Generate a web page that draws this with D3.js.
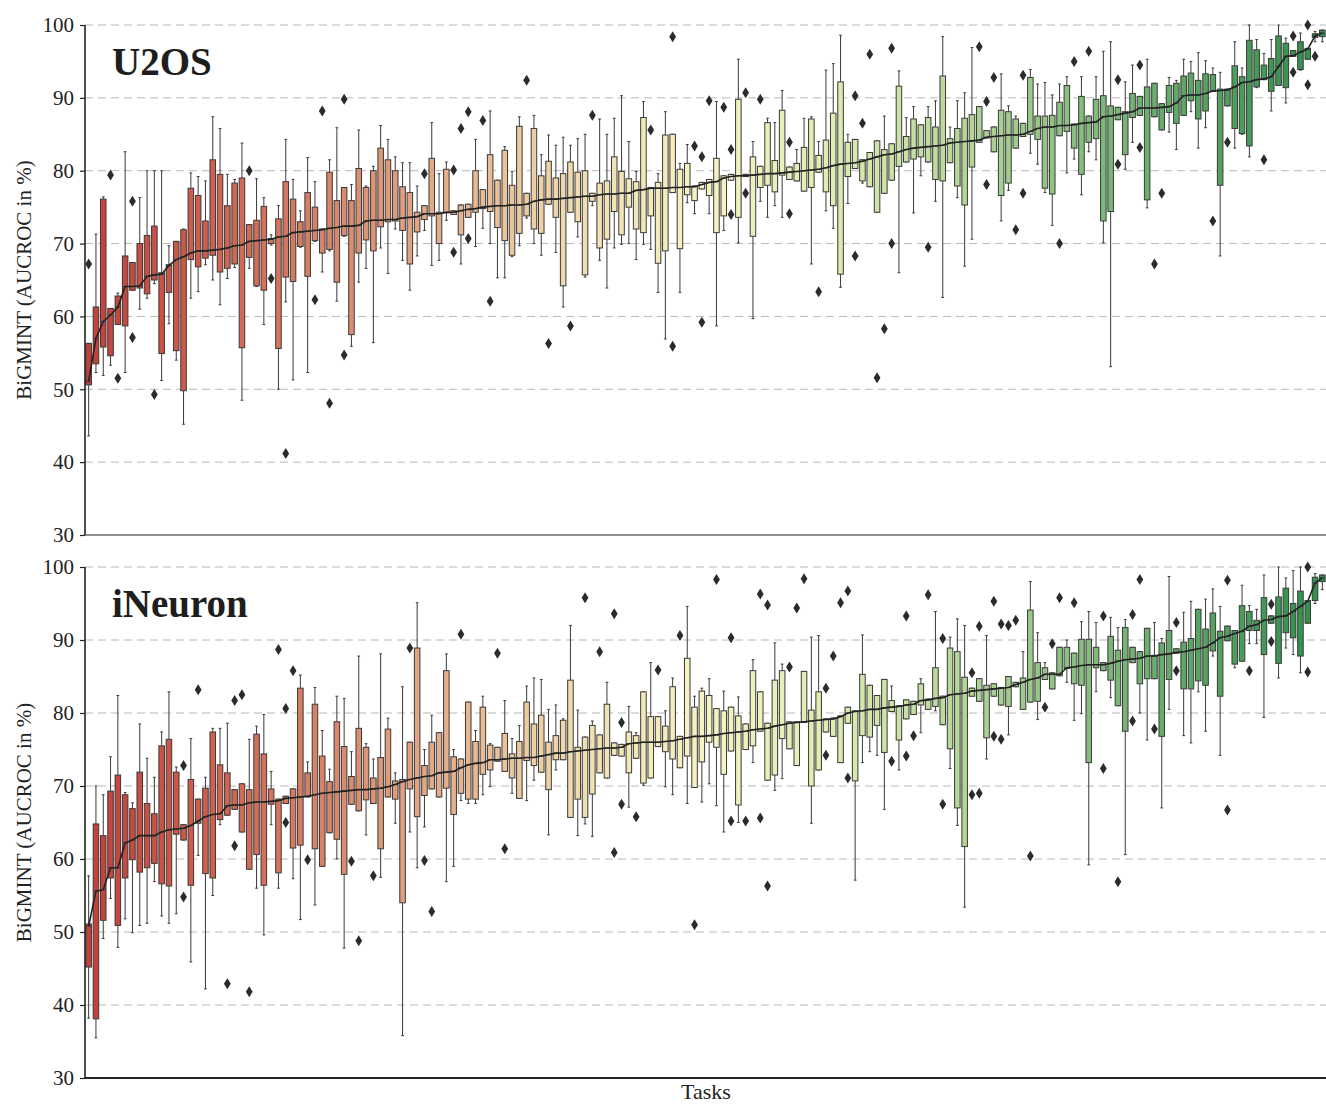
<!DOCTYPE html>
<html><head><meta charset="utf-8">
<script src="https://cdn.jsdelivr.net/npm/d3@7"></script>
<style>body{margin:0;background:#fff}svg{display:block}</style>
</head><body>
<svg id="c" width="1326" height="1105"></svg>
<script>
// ---------- U2OS ----------
const u2osQ1=[50.6,53.5,55.8,54.6,58.9,58.7,63.6,63.9,63.1,65,54.9,63.3,55.3,49.8,67.8,66.8,68,68.4,66.1,66.6,67.2,55.7,68.1,64.2,63.6,70,55.6,65.4,64.8,69.6,65.5,70.4,68.7,69.2,64.7,71.1,57.5,68.7,70.5,69,72.3,73,73.1,71.8,67.2,71.6,73.3,73.8,70,74.2,74,71.2,73.6,74.3,74.8,74.4,72.2,70.4,68.4,71.4,73.8,72,71.4,75.4,73.6,64.2,74.3,73,65.7,75.8,69.4,70.6,74.4,71.2,75,72,71.5,73.8,67.3,69,77,69.3,76.7,75.9,77.5,76.6,71.5,73.8,78.7,73.6,79.2,71,77.7,78,77.1,79.4,78.8,78.6,77.2,77.7,79.8,77.1,75.2,65.8,79.2,80.3,78.6,77.8,74.3,76.9,78.7,80.6,81.2,81.6,81.9,81.2,78.8,78.6,81.1,77.9,75.3,80.5,83.9,84.5,82.6,76.6,78.3,83.1,84.7,85,84.3,77.6,76.8,84.8,85.4,83.1,79.5,83.9,84.4,73.1,74.4,87,82.2,87.3,87.6,76,87.4,85.6,88,86.5,87.6,89.6,87.1,88.2,90.9,78,88.9,85.8,85.1,83.4,91.5,92.5,90.9,91.7,91.4,95.7,93.9,95.3,98.3,98.4];
const u2osMed=[51.1,57,59.3,60.2,61.3,64.1,64.1,64.2,65.5,65.7,65.8,67,67.8,68.2,68.7,69,69,69.1,69.2,69.4,69.7,69.8,70.3,70.4,70.5,70.6,70.9,71,71.5,71.6,71.7,71.8,71.9,72.1,72.2,72.4,72.4,72.5,73.1,73.2,73.2,73.3,73.3,73.5,73.6,73.7,74.1,74.1,74.1,74.3,74.3,74.5,74.7,74.8,75,75.1,75.2,75.2,75.3,75.3,75.4,75.8,76,76.1,76.1,76.2,76.3,76.4,76.5,76.5,76.7,76.8,76.8,76.9,76.9,77.3,77.4,77.6,77.6,77.6,77.7,77.7,77.8,77.8,78.1,78.4,78.5,79,79.2,79.3,79.3,79.4,79.5,79.6,79.6,79.7,79.8,79.9,80,80.1,80.2,80.4,80.7,80.9,81,81.1,81.3,81.6,81.9,82.2,82.3,82.6,82.9,83.1,83.2,83.3,83.4,83.5,83.8,83.9,84,84.1,84.2,84.6,84.7,84.8,84.9,84.9,85,85.4,85.8,86,86,86.2,86.2,86.3,86.5,86.6,86.7,87.4,87.5,87.7,87.9,88.1,88.6,88.6,88.6,88.7,88.8,89.3,90.3,90.4,90.4,90.6,90.95,91,91.1,91.5,92.1,92.2,92.5,92.6,92.9,94.3,95.7,95.8,96.3,96.7,98.5,98.9];
const u2osQ3=[56.3,61.3,76.1,61.1,62.8,68.3,67.4,70,71.1,72.4,66,67.1,70.3,71.9,77.6,76.6,73.1,81.5,79.5,75.2,78.3,79,72.6,73.2,75.1,70.7,73.4,78.5,76.1,73,77,75,72,79.8,75.9,77.7,75.9,80.3,77.7,80,83.1,81.5,80,77.8,77,74.3,75.2,81.7,74.3,80.2,74.5,75.3,75.4,80,77.4,82.2,78.7,82.8,78,86.1,76.9,85.8,79.3,81.3,79,79.6,81.2,79.8,80,76.9,78.3,78.6,81.9,79.9,78.9,78.5,87.3,77.7,78.4,84.9,85,80.2,81,77.9,78.4,78.8,81.7,79.3,79.5,89.8,79.5,81.9,80.6,86.6,81.4,88.3,80.5,81,83.2,87.1,82.1,84.2,87.9,92.2,83.9,84.3,81.5,82.5,84.1,82.9,83.7,91.6,84.7,87.1,86.3,87.3,86,93,84.4,85.8,87.2,87.7,88.8,85.5,86,88.3,88.1,87.1,86.5,92.8,87.5,87.5,87.6,89.4,91.7,86.4,90.2,87.5,89.8,90.3,88.9,88.7,88.1,90.6,90.2,91.5,92,89.2,91.7,92,93,93.4,92.4,93.3,93.2,91.2,91.2,94.4,92.9,97.9,96.6,94.5,95.4,98.5,97.5,96.5,97.7,96.8,98.8,99.3];
const u2osLo=[43.6,52.3,51.9,53.3,58.9,52.3,63.6,61,62.5,64.5,51.2,59,54,45.2,62.5,63.4,67.1,65,61.6,65.2,66.7,48.5,66.6,64.1,58.9,69.8,50,62,51.3,69.5,52.3,70.3,66.1,69,62.1,71,55.9,64.7,66.6,56.4,69.4,65.9,72,67.7,63.6,68.3,71.8,67,67.7,73.2,74,67.2,73.6,69.6,72.1,70,65.3,65.3,68.2,69.7,73.5,70,68.4,75.4,68.8,61.3,74.3,70.9,65.4,75.2,67.7,63.9,69.4,69.9,70,67.8,69.9,69.2,63.3,56.9,77,63.3,75.6,74.1,77.5,74.1,58.7,71.8,78.7,70.1,79.2,59.7,75.8,73.6,75.2,73.6,78.8,78.6,77.2,67.2,79.8,74.5,72.1,64,75.5,80.3,78.3,77.8,74.3,76.9,78.7,66,81.2,74.2,79.3,81.2,75.8,62.6,81.1,76.3,66.9,70.6,83.9,84.5,82.6,73.1,77.3,83.1,84.7,82.4,80.9,77,72.5,84.8,79.7,81.6,76.7,82.6,81.5,70.1,53.1,87,80.2,83.9,87.6,74.9,87.4,85.6,85.3,82.9,87.6,88.1,83.1,85.9,90.9,68.3,88.9,83.1,85,81.9,91.4,92.5,88.2,91.7,89.3,95.7,93.8,95.3,97.7,97.7];
const u2osHi=[56.3,71.3,76.4,61.1,63.2,82.6,67.4,76.3,80,80,80,69.7,70.3,72,79.7,79.2,78.6,87.4,85.8,79.5,78.8,83.8,72.6,78.9,76.3,71.2,75.2,84.3,78.8,74.5,81.8,78.5,72,81.5,85.9,77.7,78.1,85.6,77.9,80.6,86.2,84.3,81.9,81.1,81.1,77.9,75.2,86.6,79.6,81.2,74.5,75.3,75.4,84.3,77.4,88.2,78.7,83.3,79.9,87.4,76.9,87.6,82.2,84.9,83.5,84.6,83.5,84.4,85,76.9,87.1,85,87.2,90.3,84,79.9,89.5,77.7,79.6,88.1,85,81,83.6,77.9,78.4,78.8,89.5,79.3,79.5,95.3,79.5,84,80.6,87.2,86.6,91,80.5,82.9,87.2,87.4,84,93.8,94.7,98.6,85,84.3,81.5,82.5,84.1,87.5,83.7,93.7,87.3,88.8,86.3,88.8,89.6,98.4,86,89.6,90.7,96.9,88.8,85.5,86,93.3,88.9,87.5,86.5,93.9,91.9,92.1,90.4,91.9,92.9,86.4,92.9,87.5,92.9,96.4,97.7,88.7,92.2,94.5,90.2,95.3,92,89.2,92.8,92.4,95.3,95,96.2,95.1,94.1,93.5,91.2,97.7,94.1,100,98,96.1,98,100,98.2,96.5,98.9,96.8,99.1,99.3];
const u2osOutliers=[[1,67.2],[4,79.4],[5,51.5],[7,75.8],[7,57.1],[10,49.3],[23,80],[26,65.2],[28,41.2],[32,62.3],[33,88.2],[34,48.1],[36,89.8],[36,54.7],[47,79.6],[51,80.1],[51,68.8],[52,85.8],[53,88.1],[53,70.7],[55,86.9],[56,62.1],[61,92.4],[64,56.3],[67,58.7],[70,87.6],[78,85.6],[81,98.4],[81,55.9],[84,83.4],[85,81.9],[85,59.2],[86,89.6],[88,88.7],[89,82.9],[89,74],[91,90.7],[91,76.9],[93,89.8],[97,83.9],[97,74.1],[101,63.4],[106,90.3],[106,68.3],[107,86.5],[108,96],[109,51.6],[110,58.3],[111,96.8],[111,70],[116,69.5],[123,97],[124,89.5],[124,78.1],[125,92.8],[128,71.9],[129,93.1],[129,76.9],[134,70],[136,95],[138,96.4],[142,92.5],[142,80.9],[145,94.5],[145,83.2],[147,67.2],[148,76.9],[155,73.1],[157,83.9],[162,81.5],[166,98.5],[166,93.5],[168,100],[168,91.8],[169,95.7]];

// ---------- iNeuron ----------
const ineuQ1=[45.2,38.1,51.6,57.4,50.9,57.4,59.9,58.2,58.8,59.4,56.6,56.3,63.4,62.6,56.4,64.9,58,57.4,65.4,66,66.8,63.7,58.6,60.6,56.4,67.5,58.1,67.6,61.5,61.9,68.5,61.4,59,63.6,62.7,57.9,67.5,66.6,68.1,67.6,61.4,68.5,68.2,54,69.6,65.8,68.7,69.6,68.5,69.7,66.1,69,68.2,68.2,71.6,72.2,73.4,72,71.1,68.3,73.5,72.8,71.9,69.5,73.6,73.6,65.7,68.2,65.7,68.9,71.8,71.1,74.2,74.1,71.8,73.8,70.4,71.1,75.4,74.7,73.7,72.5,74.1,69.8,73.3,76,75.3,71.6,74.8,67.4,75,75.5,77.5,70.8,71.5,76.5,75.1,72.8,78.7,70,72.2,77.4,76.8,73.2,78.6,70.7,76.9,76.7,78.3,74.6,80.2,76.3,79.2,79.8,81.1,80.5,80.9,78.4,75.1,67,61.7,82.3,81.6,76.6,82.3,81.1,80.9,83.6,80.5,81.5,81.6,84.6,83.3,85.1,86.1,84,83.8,73.2,86.2,85.8,84.5,81,77.5,86.9,84,84.7,84.7,76.8,84.6,88.2,83.3,83.3,84.4,83.8,88.5,82.3,89.9,86.7,87.1,91.3,91.3,88,92.3,86.8,91,90.3,87.8,92.3,95.4,98];
const ineuMed=[50.8,55.6,55.8,58.8,58.8,62.2,62.6,63.2,63.2,63.2,63.7,64,64.1,64.2,64.6,65.2,65.8,66.1,66.2,67.3,67.4,67.4,67.7,67.8,67.8,67.9,68,68.3,68.4,68.5,68.6,68.8,69,69.1,69.2,69.3,69.4,69.5,69.5,69.6,69.7,69.9,70.2,70.6,70.9,71.1,71.3,71.4,71.8,71.9,72,72.5,72.9,73.1,73.2,73.6,73.6,73.7,73.8,73.8,73.9,73.9,74.1,74.3,74.5,74.5,74.7,74.8,74.9,75,75.1,75.2,75.2,75.3,75.8,75.9,76,76,76,76.1,76.2,76.4,76.6,76.8,76.8,76.9,77,77.2,77.3,77.4,77.5,77.7,77.8,77.9,78.2,78.4,78.6,78.7,78.8,78.9,79,79.1,79.2,79.5,80,80.2,80.3,80.5,80.5,80.7,80.8,80.9,81.1,81.2,81.7,81.8,82,82.1,82.5,82.6,82.7,83,83.1,83.2,83.3,83.4,83.5,83.9,84.2,84.6,84.8,85.3,85.3,85.3,86.2,86.3,86.5,86.6,86.6,86.6,86.8,87.1,87.3,87.4,87.5,87.8,87.8,88,88.1,88.3,88.4,88.6,88.8,89,89.6,90.3,90.5,90.9,91.2,91.9,92.1,92.7,92.8,93.2,93.3,93.9,94.6,95.3,97.8,98.5];
const ineuQ3=[51.1,64.8,63.2,69.3,71.5,68.8,66.9,71.9,67.6,66.2,75.5,76.4,71.9,64.7,70.9,68.2,69.7,77.4,72.9,71.8,69.5,70.3,69.5,77.1,74.4,69.6,68.2,68.6,69.6,83.4,71.8,81.2,74.1,70.6,78.8,75.4,71.3,77.9,75.3,71.1,73.9,77.8,70.7,70.9,76,88.9,72.8,76,77.3,85.8,74,73.7,81.5,76.1,80.8,75.6,75.3,77.2,74.4,76.1,81.5,78.5,79.7,76,76.9,79,84.5,75.3,76.7,78.3,77,81.2,75.9,75.7,77.4,76.9,82.9,79.5,79.5,78.2,83.6,76.8,87.5,80.8,83,82.4,80.6,80.3,80.8,79.6,78.5,85.8,82.9,78.6,84.5,85.8,78.8,78.8,85.7,80.4,82.9,79.2,79.3,79.6,80.8,80.3,85.3,83.8,82.4,84.6,81.7,81,81.8,81.6,84,81.9,86.2,82.3,88.9,88.4,84.9,83.4,84.7,83.8,84,83.5,85,84.2,84.8,94.1,86.9,86.2,85.5,89,89,88.2,90.1,90.1,89,86.9,90.5,88.6,91.7,89,88.4,91.6,87.9,89.6,91.3,88.8,89.7,90.2,94.2,91.5,93.7,91.2,91.9,91.3,94.7,93.9,92.7,95.8,93.3,95.9,97.1,95,96.7,95.4,98.6,98.9];
const ineuLo=[38.2,35.5,49.1,54.6,47.9,51.8,49.9,50.9,51.2,56.9,52.2,51.2,52.5,62.6,45.9,60.5,42.2,55,64.7,66,66.8,63.7,58.6,56,49.6,64.7,56,67.6,57.3,51.7,68.5,53.7,59,63.6,60,47.8,67.5,66.6,63.3,67.6,57.5,68.5,64.9,35.8,63.7,58.8,64.4,69.6,68.5,56.9,59,68,67.6,67.6,68.8,69.9,73.4,72,69,68.3,68,70.8,71.9,63.3,72.2,73.6,65.7,63.2,64.8,63.1,71.8,71.1,74.2,74.1,67.1,73.8,70.1,71.1,75.4,69.9,68.8,72.5,67.6,69.8,67.8,70.3,67.3,63.7,74.8,65,75,73.2,77.5,70.8,69.4,71,75.1,72.8,78.7,64.9,72.2,77.4,76.8,73.2,78.6,57.1,73.2,74.7,74.2,66.8,80.2,72.2,79.2,79.8,77.3,80.5,80.3,78.4,72.4,64.6,53.4,82.3,81.6,73.7,82.3,81.1,77,83.6,80.5,81.5,79.1,84.6,83.3,85.1,84.2,79,79.9,59.2,82.9,85.8,82.1,81,60.6,86.9,80,76.3,84.7,67,80.5,88.2,76.9,75.9,82.9,77.5,87.8,74.2,89.9,86.2,87.1,89.5,89.5,79.4,92.3,84.8,88.9,88,85.5,92.3,95,96.9];
const ineuHi=[57.7,70,68.8,74,82.4,69.1,67.7,78.5,73.8,71.2,77.4,82.9,72.6,64.7,76.5,68.2,71.2,77.9,77.9,78.6,69.5,70.3,76.4,78.2,79.8,72,68.2,68.6,69.6,85.2,73.3,83.5,77.6,72.3,82.3,82,74.7,87.8,75.8,73.7,88.1,79.3,71.8,83.6,76,95.1,75,79.7,77.3,88.1,75,73.7,81.5,77.6,82.3,75.8,75.3,81.7,76.5,78.3,83.7,84.8,84.6,80.5,81.1,79.2,92,80.4,76.7,78.9,77,84.2,75.9,75.7,80.9,77.3,82.9,86.9,79.5,80.3,84.8,76.8,94.6,82.3,83.4,84.7,80.6,83,80.8,82.2,78.5,87.3,82.9,78.6,89.6,86.7,78.8,78.8,85.7,90.4,90.6,79.2,79.3,79.6,80.8,80.3,90.7,83.8,82.4,84.6,83.7,81,81.8,81.6,84.7,81.9,93.9,82.3,90.4,92.9,92,83.4,84.7,90.6,84,83.5,85,84.2,88.4,98,91,86.9,85.5,89,90,88.2,92.5,93.9,92.4,86.9,93.1,91.7,92.8,89,88.4,91.6,92.4,90.2,98.7,88.8,93.8,95.3,94.2,95.6,97,94.6,91.9,91.3,97.5,94.7,94.2,98.9,93.3,100,98.5,99.5,100,95.4,99.1,98.9];
const ineuOutliers=[[14,72.8],[14,54.8],[16,83.2],[20,42.9],[21,81.7],[21,61.8],[22,82.5],[23,41.8],[27,88.7],[29,85.8],[28,80.6],[28,65],[31,59.9],[37,59.7],[38,48.8],[40,57.7],[45,88.9],[47,59.8],[48,52.8],[52,90.8],[57,88.2],[58,61.4],[69,95.8],[71,88.4],[73,93.6],[73,60.9],[74,78.7],[74,67.5],[76,65.8],[79,85.9],[82,90.6],[84,51],[87,98.3],[89,90.3],[89,65.2],[91,65.2],[93,96.3],[93,65.6],[94,94.8],[94,56.3],[97,86.3],[98,94.4],[99,98.4],[102,83.4],[102,74.2],[103,87.8],[104,95.1],[105,96.7],[105,71.1],[111,73.4],[113,93.3],[113,74.1],[114,76.9],[116,96.2],[118,90.2],[118,67.5],[122,85.5],[122,68.8],[123,91.9],[123,69],[125,95.3],[125,76.8],[126,92.2],[126,76.4],[127,92],[128,92.7],[130,60.4],[132,80.8],[133,89.5],[134,95.8],[136,95.1],[140,93.3],[140,72.4],[142,56.9],[144,93.5],[144,78.9],[145,98.3],[147,77.8],[150,92.4],[150,85.8],[157,98.2],[157,66.7],[160,85.8],[163,94.9],[163,89.8],[168,100],[168,85.6]];

const yTicks=[30,40,50,60,70,80,90,100];
const panelTitles=["U2OS","iNeuron"];
const yLabel="BiGMINT (AUCROC in %)";
const xLabel="Tasks";

const FONT="'Liberation Serif','DejaVu Serif',serif";
const svg=d3.select("#c");
const left=85,right=1326;
const nTasks=u2osMed.length;
const tasks=d3.range(1,nTasks+1);
const x=d3.scaleBand().domain(tasks).range([left,right]).padding(0);
const step=x.bandwidth();
const bw=step*0.76;
const cx=t=>x(t)+step/2;
// muted red -> salmon -> pale yellow -> light green -> green
const ramp=d3.piecewise(d3.interpolateRgb,["#c2403a","#d0604e","#d9876c","#e6b38e","#f1deb0","#f6f3c2","#dfecb2","#b8d99a","#88bf7e","#58a462","#2f8e4b"]);
const colorOf=i=>ramp(i/(nTasks-1));
const LINE="#3a3a3a";

function drawPanel(cfg){
  const y=d3.scaleLinear().domain([30,100]).range([cfg.bottom,cfg.top]);
  const g=svg.append("g");
  g.append("g").selectAll("line").data(yTicks.filter(v=>v>30)).join("line")
    .attr("x1",left).attr("x2",right).attr("y1",d=>y(d)).attr("y2",d=>y(d))
    .attr("stroke","#b8b8b8").attr("stroke-width",1).attr("stroke-dasharray","8,5");
  const rows=tasks.map((t,i)=>({t,i,q1:cfg.q1[i],med:cfg.med[i],q3:cfg.q3[i],lo:cfg.lo[i],hi:cfg.hi[i]}));
  const bx=g.append("g").selectAll("g").data(rows).join("g");
  bx.append("line").attr("x1",d=>cx(d.t)).attr("x2",d=>cx(d.t)).attr("y1",d=>y(d.lo)).attr("y2",d=>y(d.q1)).attr("stroke",LINE).attr("stroke-width",1);
  bx.append("line").attr("x1",d=>cx(d.t)).attr("x2",d=>cx(d.t)).attr("y1",d=>y(d.q3)).attr("y2",d=>y(d.hi)).attr("stroke",LINE).attr("stroke-width",1);
  bx.append("line").attr("x1",d=>cx(d.t)-bw/4).attr("x2",d=>cx(d.t)+bw/4).attr("y1",d=>y(d.lo)).attr("y2",d=>y(d.lo)).attr("stroke",LINE).attr("stroke-width",1);
  bx.append("line").attr("x1",d=>cx(d.t)-bw/4).attr("x2",d=>cx(d.t)+bw/4).attr("y1",d=>y(d.hi)).attr("y2",d=>y(d.hi)).attr("stroke",LINE).attr("stroke-width",1);
  bx.append("rect").attr("x",d=>cx(d.t)-bw/2).attr("width",bw)
    .attr("y",d=>y(d.q3)).attr("height",d=>Math.max(1,y(d.q1)-y(d.q3)))
    .attr("fill",d=>colorOf(d.i)).attr("stroke",LINE).attr("stroke-width",1);
  bx.append("line").attr("x1",d=>cx(d.t)-bw/2).attr("x2",d=>cx(d.t)+bw/2).attr("y1",d=>y(d.med)).attr("y2",d=>y(d.med)).attr("stroke",LINE).attr("stroke-width",1);
  g.append("g").selectAll("path").data(cfg.out).join("path")
    .attr("transform",d=>`translate(${cx(d[0])},${y(d[1])})`)
    .attr("d","M0,-5.5L3.4,0L0,5.5L-3.4,0Z").attr("fill","#2b2b2b");
  g.append("path").datum(rows).attr("fill","none").attr("stroke","#222").attr("stroke-width",1.6)
    .attr("d",d3.line().x(d=>cx(d.t)).y(d=>y(d.med)));
  const ax=g.append("g").attr("transform",`translate(${left},0)`)
    .call(d3.axisLeft(y).tickValues(yTicks).tickSize(5).tickPadding(6).tickSizeOuter(0));
  ax.select(".domain").remove();
  ax.selectAll(".tick line").attr("stroke","#222").attr("stroke-width",1.2);
  ax.selectAll(".tick text").attr("font-family",FONT).attr("font-size",21).attr("fill","#222");
  g.append("line").attr("x1",left).attr("x2",left).attr("y1",cfg.top).attr("y2",cfg.bottom).attr("stroke","#222").attr("stroke-width",1.6);
  g.append("line").attr("x1",left).attr("x2",right).attr("y1",cfg.bottom).attr("y2",cfg.bottom).attr("stroke","#222").attr("stroke-width",cfg.bw);
  g.append("text").attr("x",112).attr("y",cfg.top+50).attr("font-family",FONT).attr("font-weight","bold")
    .attr("font-size",39).attr("fill","#1e1e1e").text(cfg.title);
  g.append("text").attr("transform",`translate(31,${(cfg.top+cfg.bottom)/2}) rotate(-90)`)
    .attr("text-anchor","middle").attr("font-family",FONT).attr("font-size",21).attr("fill","#222").text(yLabel);
}

drawPanel({top:25,bottom:535,q1:u2osQ1,med:u2osMed,q3:u2osQ3,lo:u2osLo,hi:u2osHi,out:u2osOutliers,title:panelTitles[0],bw:1.2});
drawPanel({top:567,bottom:1078,q1:ineuQ1,med:ineuMed,q3:ineuQ3,lo:ineuLo,hi:ineuHi,out:ineuOutliers,title:panelTitles[1],bw:2});

svg.append("text").attr("x",706).attr("y",1099).attr("text-anchor","middle")
  .attr("font-family",FONT).attr("font-size",22).attr("fill","#222").text(xLabel);
</script>
</body></html>
